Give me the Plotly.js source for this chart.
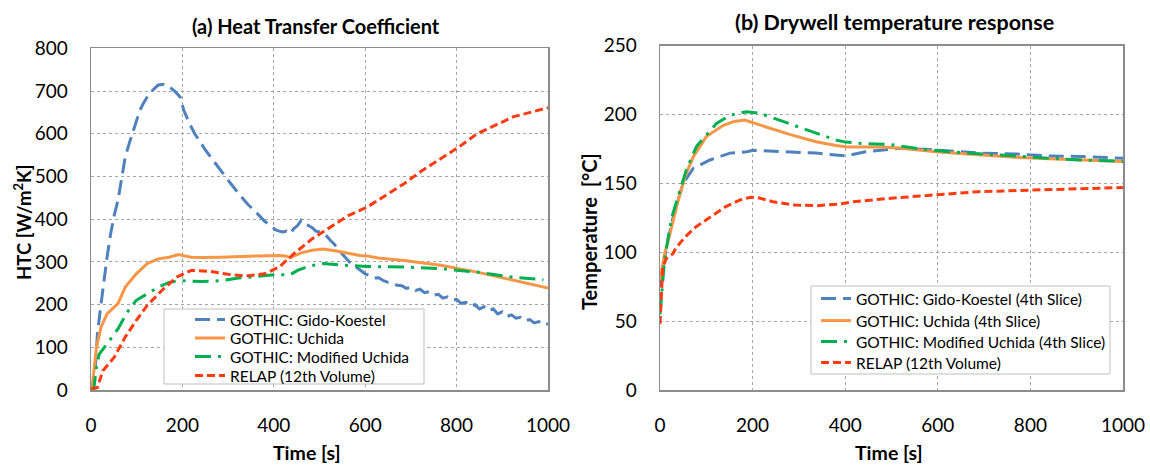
<!DOCTYPE html>
<html>
<head>
<meta charset="utf-8">
<script src="https://cdn.plot.ly/plotly-3.0.1.min.js"></script>
<style>html,body{margin:0;padding:0;background:#fff;}#chart{width:1150px;height:466px;}</style>
</head>
<body>
<div id="chart"></div>
<script>
// ---------- (a) Heat Transfer Coefficient ----------
const gkTime = [0,5,10,14,20,26,35,43,51,59,67,75,83,91,99,107,115,123,135,147,160,171,183,195,203,215,227,239,251,267,283,303,323,343,364,380,396,404,412,420,428,436,444,452,460,468,476,484,492,500,508,516,524,532,540,548,556,564,572,580,590,600,610,620,630,640,650,660,670,680,690,700,710,720,730,740,750,760,770,780,790,800,810,820,830,840,850,860,870,880,890,900,910,920,930,940,950,960,970,980,990,1000];
const gkHTC  = [0,5,60,130,185,241,310,366,410,444,500,546,575,600,630,655,672,686,702,714,716,710,700,686,655,625,600,580,561,538,514,487,460,435,413,395,382,375,372,370,372,366,378,385,397,388,385,380,372,370,366,360,350,342,330,320,311,300,292,288,280,272,268,262,263,256,252,250,245,244,238,240,233,236,228,230,222,224,215,218,210,212,203,205,196,200,190,195,185,190,178,183,172,176,168,170,162,165,157,160,152,155];

const ucTime = [0,2,12,22,35,59,75,99,123,147,171,191,219,243,283,323,364,412,425,436,460,484,508,540,572,588,604,628,685,765,845,925,1000];
const ucHTC  = [0,2,100,147,178,202,241,272,296,307,311,317,311,310,311,313,314,315,314,310,321,327,330,325,319,315,314,309,303,292,276,256,239];

const muTime = [0,6,12,18,35,59,79,99,123,147,171,195,243,283,323,364,404,436,452,476,508,556,604,685,765,845,925,990];
const muHTC  = [0,2,53,84,108,143,182,210,225,241,252,256,254,256,262,266,270,270,280,290,296,292,289,288,284,276,264,258];

const rlTime = [0,14,26,51,75,99,123,155,187,219,259,299,339,380,412,444,484,524,564,604,644,685,725,765,805,845,885,925,965,1000];
const rlHTC  = [2,6,45,77,124,163,198,233,264,280,278,271,267,272,288,319,354,382,409,428,456,483,514,542,569,600,620,640,651,661];

// ---------- (b) Drywell temperature response ----------
const gkTimeB = [0,14,30,46,50,72,108,151,188,201,265,337,401,444,516,595,695,767,839,910,1000];
const gkTemp  = [75,104,128,145,150,161,167,172,173,174,173,172,170,173,175.5,174.3,172,171.4,170,169.5,168.3];

const ucTimeB = [0,10,22,38,54,72,100,136,160,183,229,280,337,380,405,440,480,523,595,695,767,839,910,1000];
const ucTemp  = [80,99,114,136,155,169.5,184,192,195,196,191,185.6,180.3,177.5,176.5,176.5,176.5,175.5,173,170.7,169,168,167,166];

const muTimeB = [0,10,25,43,57,79,97,122,151,186,215,265,308,351,380,401,437,495,552,624,695,767,839,910,1000];
const muTemp  = [55,95,125,145,160,177,184,193.5,199.5,202,201,195,190,185,181.5,180,179,178.4,175.5,173,171.4,169.5,168.3,167,166];

const rlTimeB = [0,6,14,21,28,34,54,78,109,141,173,196,212,244,291,339,386,418,489,608,687,806,925,1000];
const rlTemp  = [48,89.5,95.6,97,99,103,111,118.6,126,133,138,140,139.6,136.7,134.3,133.8,135,136.7,139,142.3,144,145.2,146.4,147];

const tickX = [0,200,400,600,800,1000];
const tickYa = [0,100,200,300,400,500,600,700,800];
const tickYb = [0,50,100,150,200,250];

const namesA = ['GOTHIC: Gido-Koestel','GOTHIC: Uchida','GOTHIC: Modified Uchida','RELAP (12th Volume)'];
const namesB = ['GOTHIC: Gido-Koestel (4th Slice)','GOTHIC: Uchida (4th Slice)','GOTHIC: Modified Uchida (4th Slice)','RELAP (12th Volume)'];

const cBlue = '#4F81BD', cOrange = '#F79646', cGreen = '#00B050', cRed = '#FF3B12';
const styles = [
  {color:cBlue, width:3, dash:'15px,7px'},
  {color:cOrange, width:3, dash:'solid'},
  {color:cGreen, width:3, dash:'16px,7px,3px,7px'},
  {color:cRed, width:3, dash:'8px,4px'}
];

const FONT = 'Lato, "Open Sans", sans-serif';

const dataA = [[gkTime,gkHTC],[ucTime,ucHTC],[muTime,muHTC],[rlTime,rlHTC]];
const dataB = [[gkTimeB,gkTemp],[ucTimeB,ucTemp],[muTimeB,muTemp],[rlTimeB,rlTemp]];

// legend entry centres (px) for each panel
const legAx = 190, legAy = [320,338.5,357,376];
const legBx = 816, legBy = [299,321,342,363];

const traces = [];
const legends = {};
dataA.forEach((d,i)=>{
  const lid = i===0 ? 'legend' : 'legend'+(i+1);
  traces.push({x:d[0],y:d[1],name:namesA[i],type:'scatter',mode:'lines',line:styles[i],xaxis:'x',yaxis:'y',legend:lid});
  legends[lid] = {x:legAx/1150, y:1-legAy[i]/466};
});
dataB.forEach((d,i)=>{
  const lid = 'legend'+(i+5);
  traces.push({x:d[0],y:d[1],name:namesB[i],type:'scatter',mode:'lines',line:styles[i],xaxis:'x2',yaxis:'y2',legend:lid});
  legends[lid] = {x:legBx/1150, y:1-legBy[i]/466};
});

const axBase = {
  showline:true, mirror:true, linecolor:'#8C8C8C', linewidth:1.5,
  showgrid:true, gridcolor:'#A6A6A6', griddash:'3px,3px', gridwidth:1,
  zeroline:false, ticks:'outside', tickcolor:'rgba(0,0,0,0)',
  tickfont:{family:FONT, size:19, color:'#000'}
};

const layout = {
  width:1150, height:466,
  margin:{l:0,r:0,t:0,b:0},
  paper_bgcolor:'#fff', plot_bgcolor:'#fff',
  font:{family:FONT, color:'#000'},
  xaxis:Object.assign({}, axBase, {domain:[91/1150,548/1150], range:[0,1000], tickvals:tickX, ticklen:18, anchor:'y'}),
  yaxis:Object.assign({}, axBase, {domain:[76/466,417.7/466], range:[0,800], tickvals:tickYa, ticklen:18, anchor:'x'}),
  xaxis2:Object.assign({}, axBase, {domain:[660/1150,1123/1150], range:[0,1000], tickvals:tickX, ticklen:18, anchor:'y2'}),
  yaxis2:Object.assign({}, axBase, {domain:[76/466,420.3/466], range:[0,250], tickvals:tickYb, ticklen:18, anchor:'x2'}),
  showlegend:true,
  shapes:[
    {type:'rect', xref:'paper', yref:'paper', x0:164/1150, x1:424/1150, y0:1-384/466, y1:1-309/466,
     fillcolor:'#fff', line:{color:'#BFBFBF', width:1}, layer:'above'},
    {type:'rect', xref:'paper', yref:'paper', x0:811/1150, x1:1110/1150, y0:1-374/466, y1:1-286/466,
     fillcolor:'#fff', line:{color:'#BFBFBF', width:1}, layer:'above'}
  ],
  annotations:[
    {text:'<b>(a) Heat Transfer Coefficient</b>', xref:'paper', yref:'paper', x:316/1150, y:1-26/466,
     xanchor:'center', yanchor:'middle', showarrow:false, font:{family:FONT, size:20, color:'#000'}},
    {text:'<b>(b) Drywell temperature response</b>', xref:'paper', yref:'paper', x:895/1150, y:1-22/466,
     xanchor:'center', yanchor:'middle', showarrow:false, font:{family:FONT, size:21.5, color:'#000'}},
    {text:'<b>Time [s]</b>', xref:'paper', yref:'paper', x:307/1150, y:1-452/466,
     xanchor:'center', yanchor:'middle', showarrow:false, font:{family:FONT, size:19.5, color:'#000'}},
    {text:'<b>Time [s]</b>', xref:'paper', yref:'paper', x:889/1150, y:1-452/466,
     xanchor:'center', yanchor:'middle', showarrow:false, font:{family:FONT, size:19.5, color:'#000'}},
    {text:'<b>HTC [W/m<sup>2</sup>K]</b>', xref:'paper', yref:'paper', x:22/1150, y:1-222/466, textangle:-90,
     xanchor:'center', yanchor:'middle', showarrow:false, font:{family:FONT, size:18.5, color:'#000'}},
    {text:'<b>Temperature  [°C]</b>', xref:'paper', yref:'paper', x:589/1150, y:1-232/466, textangle:-90,
     xanchor:'center', yanchor:'middle', showarrow:false, font:{family:FONT, size:20, color:'#000'}}
  ]
};
Object.keys(legends).forEach(k=>{
  layout[k] = {x:legends[k].x, y:legends[k].y, xanchor:'left', yanchor:'middle',
    bgcolor:'rgba(0,0,0,0)', borderwidth:0, font:{family:FONT, size:15.5, color:'#000'}};
});

Plotly.newPlot('chart', traces, layout, {displayModeBar:false, staticPlot:true});
</script>
</body>
</html>
